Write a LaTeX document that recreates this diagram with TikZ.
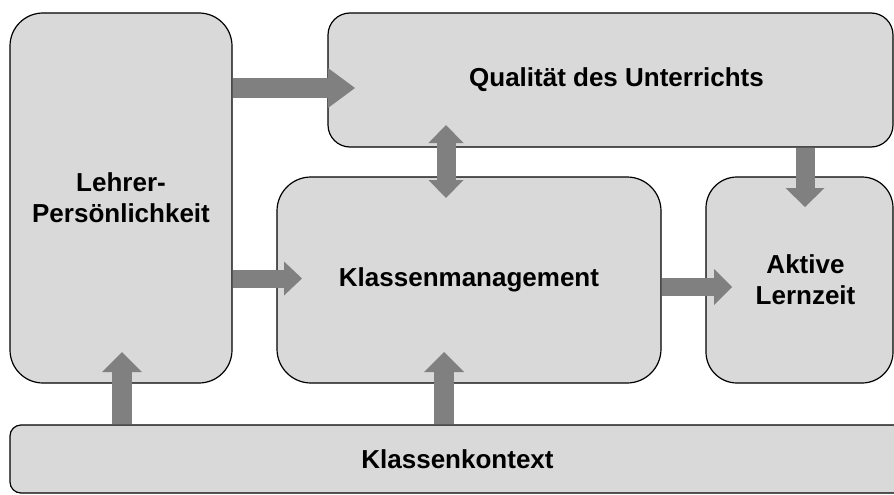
\documentclass[tikz,border=0pt]{standalone}
\usepackage{fontspec}
\setmainfont{Liberation Sans}
\usetikzlibrary{arrows.meta}
\definecolor{boxfill}{HTML}{D9D9D9}
\definecolor{arrowgray}{HTML}{808080}
\tikzset{
  box/.style={draw=black, line width=1.2pt, fill=boxfill,
    font=\bfseries\fontsize{26}{31}\selectfont, align=center, inner sep=0pt},
  barrow/.style n args={3}{draw=arrowgray, line width=#1,
    -{Triangle[width=#2, length=#3, line width=0pt]}},
  bdarrow/.style n args={3}{draw=arrowgray, line width=#1,
    {Triangle[width=#2, length=#3, line width=0pt]}-{Triangle[width=#2, length=#3, line width=0pt]}},
}
\begin{document}
\begin{tikzpicture}[x=1pt,y=-1pt]
\clip (0,0) rectangle (894,495);
\fill[white] (0,0) rectangle (894,495);

\node[box, minimum width=222pt, minimum height=370pt, rounded corners=33pt] (L) at (121,198) {Lehrer-\\Persönlichkeit};
\node[box, minimum width=565pt, minimum height=134pt, rounded corners=22pt] (Q) at (610.5,80) {\hspace*{12pt}Qualität des Unterrichts};
\node[box, minimum width=384pt, minimum height=206pt, rounded corners=34pt] (K) at (469,280) {Klassenmanagement};
\node[box, minimum width=187pt, minimum height=206pt, rounded corners=31pt] (A) at (799.5,280) {\hspace*{12pt}Aktive\\\hspace*{12pt}Lernzeit};
\node[box, minimum width=895pt, minimum height=68pt, rounded corners=11pt] (C) at (457.5,459) {Klassenkontext};

% named arrow end points
\coordinate (lq1) at (L.east |- 0,88);
\coordinate (lq2) at (355,88);
\coordinate (lk1) at (L.east |- 0,278.5);
\coordinate (lk2) at (302,278.5);
\coordinate (ka1) at (K.east |- 0,287);
\coordinate (ka2) at (732,287);
\coordinate (qk1) at (446,125);
\coordinate (qk2) at (446,198);
\coordinate (qa1) at (Q.south -| 805,0);
\coordinate (qa2) at (805,207);
\coordinate (cl1) at (C.north -| 122,0);
\coordinate (cl2) at (122,352);
\coordinate (ck1) at (C.north -| 444,0);
\coordinate (ck2) at (444,352);

\draw[barrow={20pt}{40pt}{27pt}] (lq1) -- (lq2);
\draw[barrow={18pt}{34pt}{18pt}] (lk1) -- (lk2);
\draw[barrow={18pt}{36pt}{18pt}] (ka1) -- (ka2);
\draw[bdarrow={19pt}{35pt}{18pt}] (qk1) -- (qk2);
\draw[barrow={19pt}{39pt}{19pt}] (qa1) -- (qa2);
\draw[barrow={20pt}{40pt}{20pt}] (cl1) -- (cl2);
\draw[barrow={20pt}{40pt}{20pt}] (ck1) -- (ck2);
\end{tikzpicture}
\end{document}
